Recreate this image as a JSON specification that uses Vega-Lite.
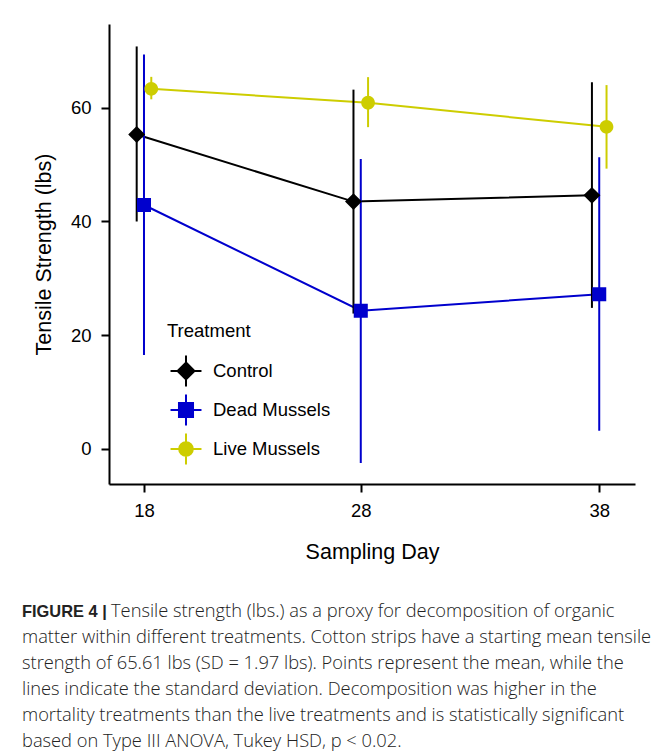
{
  "$schema": "https://vega.github.io/schema/vega-lite/v6.json",
  "background": "white",
  "padding": {"left": 22, "top": 24, "right": 5, "bottom": 5},
  "spacing": 39,
  "config": {
    "view": {"stroke": null},
    "font": "Liberation Sans",
    "axis": {
      "domainColor": "#000000", "domainWidth": 2,
      "tickColor": "#000000", "tickWidth": 2, "tickSize": 8,
      "labelColor": "#000000", "labelFontSize": 18.5,
      "titleColor": "#000000", "titleFontSize": 21.5, "titleFontWeight": "normal",
      "grid": false, "labelPadding": 10
    }
  },
  "vconcat": [
    {
      "width": 526,
      "height": 460,
      "data": {
        "values": [
          {"treatment": "Control", "day": 18, "mean": 55.3, "lo": 40.0, "hi": 70.8},
          {"treatment": "Control", "day": 28, "mean": 43.5, "lo": 23.8, "hi": 63.2},
          {"treatment": "Control", "day": 39, "mean": 44.6, "lo": 24.8, "hi": 64.5},
          {"treatment": "Dead Mussels", "day": 18, "mean": 42.9, "lo": 16.5, "hi": 69.4},
          {"treatment": "Dead Mussels", "day": 28, "mean": 24.3, "lo": -2.5, "hi": 51.0},
          {"treatment": "Dead Mussels", "day": 39, "mean": 27.2, "lo": 3.2, "hi": 51.3},
          {"treatment": "Live Mussels", "day": 18, "mean": 63.35, "lo": 61.5, "hi": 65.45},
          {"treatment": "Live Mussels", "day": 28, "mean": 60.9, "lo": 56.6, "hi": 65.4},
          {"treatment": "Live Mussels", "day": 39, "mean": 56.65, "lo": 49.3, "hi": 64.0}
        ]
      },
      "encoding": {
        "x": {
          "field": "day", "type": "quantitative",
          "scale": {"domain": [16.386, 40.65], "nice": false, "zero": false},
          "axis": {
            "values": [18, 28, 39],
            "labelExpr": "datum.value == 39 ? '38' : datum.label",
            "title": "Sampling Day", "titlePadding": 22, "labelPadding": 9
          }
        },
        "color": {
          "field": "treatment", "type": "nominal",
          "scale": {"domain": ["Control", "Dead Mussels", "Live Mussels"], "range": ["#000000", "#0000CD", "#CDCD00"]},
          "legend": {
            "title": "Treatment", "orient": "none", "direction": "vertical",
            "legendX": 58, "legendY": 297.5, "padding": 0,
            "symbolSize": 1296, "labelOffset": 8, "titlePadding": 12, "rowPadding": -1,
            "labelFontSize": 18.5, "titleFontSize": 18.5, "titleFontWeight": "normal",
            "labelColor": "#000000", "titleColor": "#000000",
            "encode": {"symbols": {"update": {
              "stroke": {"scale": "color", "field": "value"},
              "fill": {"scale": "color", "field": "value"},
              "strokeWidth": {"value": 2},
              "opacity": {"value": 1}
            }}}
          }
        }
      },
      "layer": [
        {"transform": [{"filter": "datum.treatment == 'Control'"}],
         "mark": {"type": "line", "strokeWidth": 2, "xOffset": -7.3},
         "encoding": {"y": {"field": "mean", "type": "quantitative", "title": "Tensile Strength (lbs)",
           "scale": {"domain": [-6.19, 74.75], "nice": false, "zero": false},
           "axis": {"values": [0, 20, 40, 60], "titlePadding": 15}}}},
        {"transform": [{"filter": "datum.treatment == 'Dead Mussels'"}],
         "mark": {"type": "line", "strokeWidth": 2, "xOffset": 0},
         "encoding": {"y": {"field": "mean", "type": "quantitative", "title": "Tensile Strength (lbs)"}}},
        {"transform": [{"filter": "datum.treatment == 'Live Mussels'"}],
         "mark": {"type": "line", "strokeWidth": 2, "xOffset": 7.3},
         "encoding": {"y": {"field": "mean", "type": "quantitative", "title": "Tensile Strength (lbs)"}}},
        {"transform": [{"filter": "datum.treatment == 'Control'"}],
         "mark": {"type": "rule", "strokeWidth": 2, "xOffset": -7.3},
         "encoding": {"y": {"field": "lo", "type": "quantitative", "title": "Tensile Strength (lbs)"}, "y2": {"field": "hi"}}},
        {"transform": [{"filter": "datum.treatment == 'Dead Mussels'"}],
         "mark": {"type": "rule", "strokeWidth": 2, "xOffset": 0},
         "encoding": {"y": {"field": "lo", "type": "quantitative", "title": "Tensile Strength (lbs)"}, "y2": {"field": "hi"}}},
        {"transform": [{"filter": "datum.treatment == 'Live Mussels'"}],
         "mark": {"type": "rule", "strokeWidth": 2, "xOffset": 7.3},
         "encoding": {"y": {"field": "lo", "type": "quantitative", "title": "Tensile Strength (lbs)"}, "y2": {"field": "hi"}}},
        {"transform": [{"filter": "datum.treatment == 'Control'"}],
         "mark": {"type": "point", "filled": true, "size": 1296, "strokeWidth": 0, "opacity": 1, "xOffset": -7.3},
         "encoding": {"y": {"field": "mean", "type": "quantitative", "title": "Tensile Strength (lbs)"},
           "shape": {"field": "treatment", "type": "nominal",
             "scale": {"domain": ["Control", "Dead Mussels", "Live Mussels"],
               "range": ["M0,-0.47L0.47,0L0,0.47L-0.47,0Z M-0.86,0H0.86 M0,-0.86V0.86",
                         "M-0.39,-0.39H0.39V0.39H-0.39Z M-0.86,0H0.86 M0,-0.86V0.86",
                         "M0.38,0A0.38,0.38,0,1,1,-0.38,0A0.38,0.38,0,1,1,0.38,0Z M-0.86,0H0.86 M0,-0.86V0.86"]},
             "legend": {"title": "Treatment"}}}},
        {"transform": [{"filter": "datum.treatment == 'Dead Mussels'"}],
         "mark": {"type": "point", "filled": true, "size": 1296, "strokeWidth": 0, "opacity": 1, "xOffset": 0},
         "encoding": {"y": {"field": "mean", "type": "quantitative", "title": "Tensile Strength (lbs)"},
           "shape": {"field": "treatment", "type": "nominal", "legend": {"title": "Treatment"}}}},
        {"transform": [{"filter": "datum.treatment == 'Live Mussels'"}],
         "mark": {"type": "point", "filled": true, "size": 1296, "strokeWidth": 0, "opacity": 1, "xOffset": 7.3},
         "encoding": {"y": {"field": "mean", "type": "quantitative", "title": "Tensile Strength (lbs)"},
           "shape": {"field": "treatment", "type": "nominal", "legend": {"title": "Treatment"}}}}
      ]
    },
    {
      "width": 620,
      "height": 129.5,
      "data": {
        "values": [
          {"line": 1, "text": "Tensile strength (lbs.) as a proxy for decomposition of organic"},
          {"line": 2, "text": "matter within different treatments. Cotton strips have a starting mean tensile"},
          {"line": 3, "text": "strength of 65.61 lbs (SD = 1.97 lbs). Points represent the mean, while the"},
          {"line": 4, "text": "lines indicate the standard deviation. Decomposition was higher in the"},
          {"line": 5, "text": "mortality treatments than the live treatments and is statistically significant"},
          {"line": 6, "text": "based on Type III ANOVA, Tukey HSD, p < 0.02."}
        ]
      },
      "encoding": {
        "y": {"field": "line", "type": "ordinal", "scale": {"type": "point", "padding": 0}, "axis": null},
        "x": {"value": 0}
      },
      "layer": [
        {"transform": [{"filter": "datum.line == 1"}],
         "mark": {"type": "text", "align": "left", "baseline": "middle", "fontSize": 16.4, "fontWeight": "bold", "color": "#222222", "dx": -87},
         "encoding": {"text": {"value": "FIGURE 4 |"}}},
        {"transform": [{"filter": "datum.line == 1"}],
         "mark": {"type": "text", "align": "left", "baseline": "middle", "font": "Open Sans", "fontWeight": 300, "fontSize": 18.3, "color": "#222222", "dx": 2},
         "encoding": {"text": {"field": "text"}}},
        {"transform": [{"filter": "datum.line > 1"}],
         "mark": {"type": "text", "align": "left", "baseline": "middle", "font": "Open Sans", "fontWeight": 300, "fontSize": 18.3, "color": "#222222", "dx": -87},
         "encoding": {"text": {"field": "text"}}}
      ]
    }
  ]
}
